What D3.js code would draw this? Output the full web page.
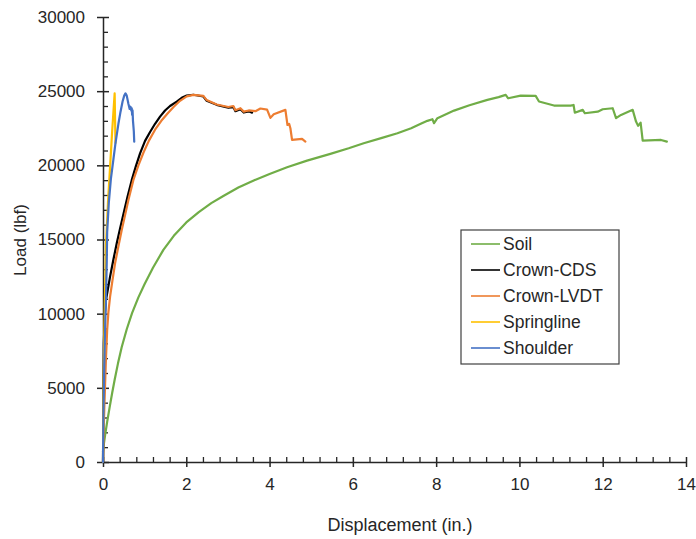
<!DOCTYPE html>
<html><head><meta charset="utf-8">
<script src="https://cdn.jsdelivr.net/npm/d3@7"></script>
<style>html,body{margin:0;padding:0;background:#fff;}svg{display:block;}</style>
</head><body>
<svg id="chart" width="696" height="539"></svg>
<script>
// ---- data ----
const seriesNames = ["Soil","Crown-CDS","Crown-LVDT","Springline","Shoulder"];
const seriesColors = ["#70AD47","#000000","#ED7D31","#FFC000","#4472C4"];

const soilDisp = [0.00,0.02,0.05,0.10,0.16,0.22,0.28,0.36,0.45,0.57,0.70,0.85,1.00,1.20,1.45,1.70,2.00,2.30,2.60,2.90,3.25,3.62,4.00,4.42,4.90,5.46,5.90,6.26,6.70,7.07,7.40,7.63,7.79,7.91,7.95,8.03,8.43,8.80,9.23,9.50,9.67,9.73,10.03,10.39,10.47,10.83,11.23,11.30,11.33,11.52,11.57,11.88,12.00,12.24,12.32,12.44,12.72,12.80,12.85,12.91,12.96,13.40,13.54];
const soilLoad = [700,1200,1800,2700,3700,4650,5550,6650,7750,8950,10050,11100,12000,13100,14300,15250,16150,16850,17450,17950,18500,18980,19420,19870,20320,20770,21150,21490,21850,22160,22500,22800,23000,23110,22840,23180,23690,24050,24410,24600,24750,24520,24700,24680,24300,24030,24030,24070,23550,23740,23510,23620,23780,23850,23180,23400,23740,22950,22660,22880,21670,21710,21600];

const cdsDisp = [0,0.01,0.02,0.04,0.07,0.12,0.17,0.25,0.33,0.41,0.49,0.59,0.69,0.79,0.89,1.01,1.13,1.25,1.37,1.49,1.61,1.77,1.89,2.01,2.17,2.41,2.49,2.73,3.01,3.13,3.18,3.30,3.38,3.50,3.58];
const cdsLoad = [0,4000,8000,9800,10900,11700,12500,13650,14750,15750,16700,17900,19000,19950,20800,21650,22250,22800,23280,23700,24000,24300,24550,24700,24760,24640,24350,24080,23880,23930,23650,23780,23560,23640,23550];

const lvdtDisp = [0,0.01,0.03,0.05,0.07,0.10,0.13,0.17,0.23,0.29,0.37,0.45,0.53,0.61,0.73,0.85,0.97,1.10,1.25,1.40,1.55,1.70,1.85,2.01,2.17,2.41,2.49,2.73,3.01,3.13,3.18,3.30,3.38,3.50,3.66,3.78,3.94,4.02,4.10,4.38,4.43,4.47,4.50,4.54,4.78,4.86];
const lvdtLoad = [0,1500,3500,5200,6900,8900,10100,11150,12300,13400,14550,15640,16650,17670,19020,20000,20850,21650,22400,23000,23500,23950,24350,24650,24750,24680,24400,24100,23930,24000,23720,23850,23620,23700,23650,23830,23760,23200,23450,23740,22720,22800,22500,21710,21780,21600];

const springDisp = [0,0.01,0.03,0.05,0.07,0.12,0.17,0.22,0.28,0.29,0.30];
const springLoad = [0,4000,8500,11500,14500,17500,19900,22300,24850,23000,21500];

const shoulderDisp = [0,0.01,0.03,0.05,0.07,0.09,0.10,0.14,0.19,0.25,0.30,0.37,0.42,0.47,0.51,0.54,0.57,0.61,0.64,0.66,0.68,0.69,0.70,0.71,0.72,0.74,0.75];
const shoulderLoad = [0,3000,6500,9000,10800,13500,15500,17500,19100,20400,21500,22800,23600,24300,24700,24850,24700,24150,23800,23950,23700,23850,23400,23700,23000,22300,21600];

const xTicks = [0,2,4,6,8,10,12,14];
const yTicks = [0,5000,10000,15000,20000,25000,30000];
const xTitle = "Displacement (in.)";
const yTitle = "Load (lbf)";

// ---- chart ----
const svg = d3.select("#chart");
svg.append("rect").attr("width",696).attr("height",539).attr("fill","#fff");
const x = d3.scaleLinear().domain([0,14]).range([103,686]);
const y = d3.scaleLinear().domain([0,30000]).range([462,17]);
const font = "Liberation Sans, Arial, sans-serif";
const axisColor = "#262626";

// minor ticks
const xMinor = d3.range(0,14.0001,0.4).filter(v=>Math.abs(v/2-Math.round(v/2))>1e-6);
const yMinor = d3.range(0,30001,1000).filter(v=>v%5000!==0);
svg.append("g").attr("transform",`translate(0,${y(0)})`)
  .call(d3.axisBottom(x).tickValues(xMinor).tickSize(-5).tickFormat(""))
  .call(g=>{g.select(".domain").remove();g.selectAll("line").attr("stroke",axisColor).attr("stroke-width",1.3);});
svg.append("g").attr("transform",`translate(${x(0)},0)`)
  .call(d3.axisLeft(y).tickValues(yMinor).tickSize(-5).tickFormat(""))
  .call(g=>{g.select(".domain").remove();g.selectAll("line").attr("stroke",axisColor).attr("stroke-width",1.3);});

// major axes
const gx = svg.append("g").attr("transform",`translate(0,${y(0)})`)
  .call(d3.axisBottom(x).tickValues(xTicks).tickSize(5).tickPadding(11).tickSizeOuter(0).tickFormat(d3.format("d")));
gx.select(".domain").attr("stroke",axisColor).attr("stroke-width",1.5);
gx.selectAll(".tick line").attr("y1",-5).attr("y2",5).attr("stroke",axisColor).attr("stroke-width",1.5);
gx.selectAll(".tick text").attr("font-family",font).attr("font-size","17px").attr("fill",axisColor);

const gy = svg.append("g").attr("transform",`translate(${x(0)},0)`)
  .call(d3.axisLeft(y).tickValues(yTicks).tickSize(6).tickPadding(12).tickSizeOuter(0).tickFormat(d3.format("d")));
gy.select(".domain").attr("stroke",axisColor).attr("stroke-width",1.5);
gy.selectAll(".tick line").attr("x1",-6).attr("x2",6).attr("stroke",axisColor).attr("stroke-width",1.5);
gy.selectAll(".tick text").attr("font-family",font).attr("font-size","17px").attr("fill",axisColor);

// series
const series = [
  {disp:soilDisp, load:soilLoad},
  {disp:cdsDisp, load:cdsLoad},
  {disp:lvdtDisp, load:lvdtLoad},
  {disp:springDisp, load:springLoad},
  {disp:shoulderDisp, load:shoulderLoad}
];
const line = d3.line().x(d=>x(d[0])).y(d=>y(d[1]));
series.forEach((s,i)=>{
  const pts = s.disp.map((d,j)=>[d,s.load[j]]);
  svg.append("path").datum(pts).attr("d",line)
    .attr("fill","none").attr("stroke",seriesColors[i])
    .attr("stroke-width",2.2).attr("stroke-linejoin","round").attr("stroke-linecap","round");
});

// titles
svg.append("text").attr("x",400).attr("y",531).attr("text-anchor","middle")
  .attr("font-family",font).attr("font-size","18px").attr("fill",axisColor).text(xTitle);
svg.append("text").attr("transform","translate(26,240) rotate(-90)").attr("text-anchor","middle")
  .attr("font-family",font).attr("font-size","17px").attr("fill",axisColor).text(yTitle);

// legend
const lg = svg.append("g");
lg.append("rect").attr("x",461).attr("y",230).attr("width",158).attr("height",134)
  .attr("fill","#fff").attr("stroke","#404040").attr("stroke-width",1.2);
seriesNames.forEach((n,i)=>{
  const yy = 244 + i*26;
  lg.append("line").attr("x1",471).attr("x2",500).attr("y1",yy).attr("y2",yy)
    .attr("stroke",seriesColors[i]).attr("stroke-width",1.6);
  lg.append("text").attr("x",503).attr("y",yy+6).attr("font-family",font)
    .attr("font-size","17.5px").attr("fill",axisColor).text(n);
});
</script>
</body></html>
